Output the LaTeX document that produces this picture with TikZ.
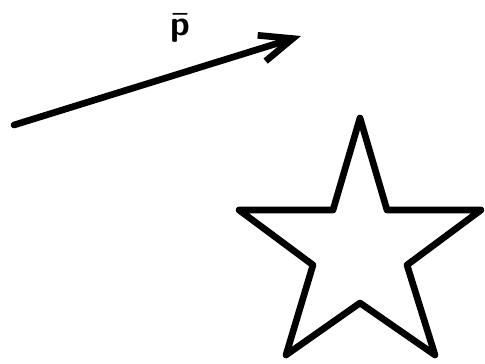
\documentclass[tikz,border=0pt]{standalone}
\usepackage{tikz}
\usepackage{amsmath}
\usetikzlibrary{arrows.meta,positioning}
\tikzset{
  stroke/.style={line width=3.8pt,line cap=round,line join=round},
  vecarr/.style={stroke,-{Straight Barb[length=6.5mm,width=5.4mm,line width=3.8pt]}},
  veclabel/.style={font=\sffamily\bfseries\fontsize{20}{20}\selectfont,inner sep=1pt},
}
\begin{document}
\begin{tikzpicture}[x=0.02cm,y=-0.02cm]
  \useasboundingbox (0,0) rectangle (485,363);
  % vector
  \coordinate (tail) at (14,125);
  \coordinate (head) at (301,36);
  \draw[vecarr] (tail) -- (head);
  \node[veclabel] (plabel) at (180,28) {$\boldsymbol{\bar{\textbf{\textsf{p}}}}$};
  % star
  \draw[stroke] (360,118) -- (387,210) -- (481,210) -- (407,265) -- (435,355)
    -- (360,303) -- (286,355) -- (313,265) -- (239,210) -- (333,210) -- cycle;
\end{tikzpicture}
\end{document}
